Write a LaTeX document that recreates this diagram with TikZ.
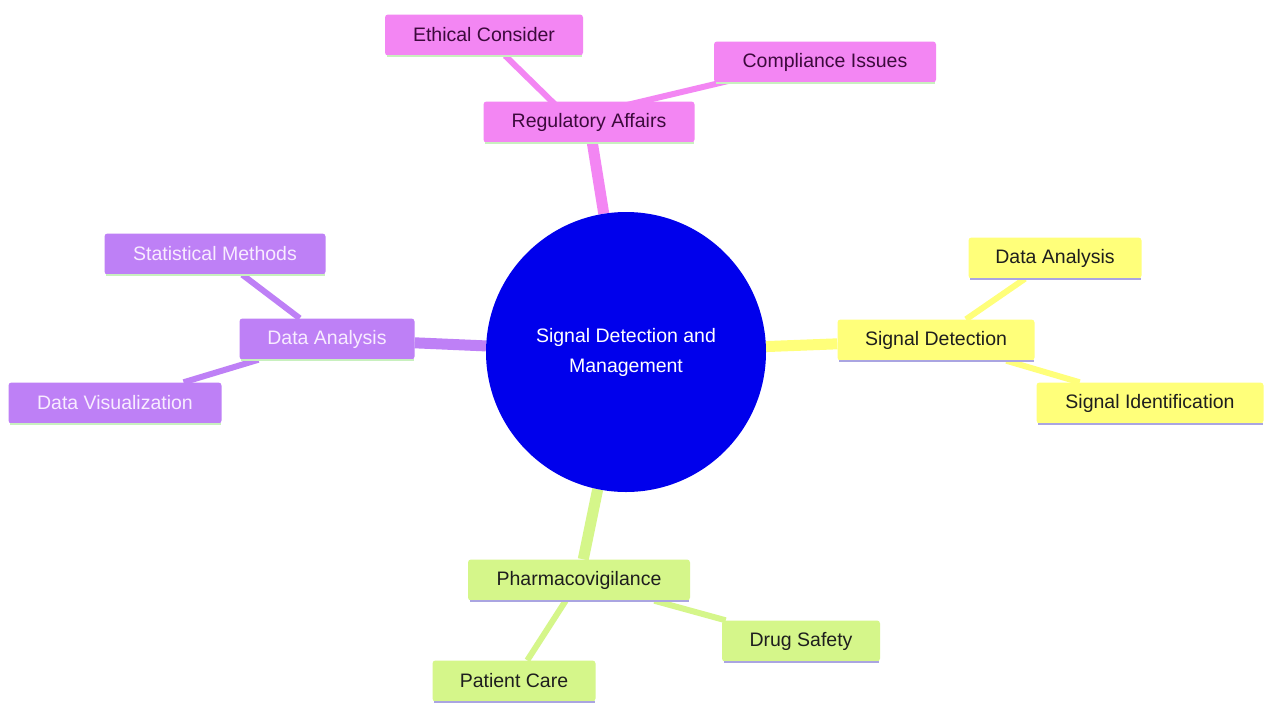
\documentclass[tikz,border=0pt]{standalone}
\usepackage{fontspec}
\setmainfont{Liberation Sans}
\usetikzlibrary{backgrounds}
\definecolor{croot}{RGB}{0,0,236}
\definecolor{cpink}{RGB}{243,134,243}
\definecolor{cyel}{RGB}{255,255,122}
\definecolor{cgrn}{RGB}{213,246,138}
\definecolor{cpur}{RGB}{190,128,246}
\definecolor{tpink}{RGB}{60,10,60}
\definecolor{tdark}{RGB}{30,30,30}
\definecolor{tpur}{RGB}{248,236,255}
\definecolor{ulgreen}{RGB}{200,240,190}
\definecolor{ullav}{RGB}{170,165,225}
\tikzset{
  box/.style={rectangle, rounded corners=3pt, inner sep=0pt, minimum height=41pt,
    font=\fontsize{19.5}{23}\selectfont},
  pinkbox/.style={box, fill=cpink, text=tpink},
  yelbox/.style={box, fill=cyel, text=tdark},
  grnbox/.style={box, fill=cgrn, text=tdark},
  purbox/.style={box, fill=cpur, text=tpur},
  rootedge/.style={line width=11pt},
  subedge/.style={line width=6pt},
  uline/.style={line width=2.5pt},
}
\begin{document}
\begin{tikzpicture}[x=1pt,y=-1pt]
\useasboundingbox (0,0) rectangle (1264,702);
\begin{scope}[on background layer]
  \fill[white] (0,0) rectangle (1264,702);
\end{scope}

% root
\node[circle, fill=croot, minimum size=280pt, inner sep=0pt, text=white,
  align=center, font=\fontsize{19.5}{30}\selectfont] (root) at (626,352)
  {Signal Detection and\\Management};

% regulatory branch
\node[pinkbox, minimum width=211pt] (ra) at (589,122) {Regulatory Affairs};
\node[pinkbox, minimum width=198pt] (ec) at (484,35) {Ethical Consider};
\node[pinkbox, minimum width=222pt] (ci) at (825,62) {Compliance Issues};

% signal detection branch
\node[yelbox, minimum width=197pt] (sd) at (936,340) {Signal Detection};
\node[yelbox, minimum width=173pt] (da2) at (1055,258) {Data Analysis};
\node[yelbox, minimum width=227pt] (si) at (1150,403) {Signal Identification};

% data analysis branch
\node[purbox, minimum width=175pt] (da) at (327,339) {Data Analysis};
\node[purbox, minimum width=221pt] (sm) at (215,254) {Statistical Methods};
\node[purbox, minimum width=213pt] (dv) at (115,403) {Data Visualization};

% pharmacovigilance branch
\node[grnbox, minimum width=222pt] (pv) at (579,580) {Pharmacovigilance};
\node[grnbox, minimum width=158pt] (ds) at (801,641) {Drug Safety};
\node[grnbox, minimum width=163pt] (pc) at (514,681) {Patient Care};

% underlines
\foreach \n/\c in {ra/ulgreen, ec/ulgreen, ci/ulgreen, da/ulgreen, sm/ulgreen, dv/ulgreen,
                   sd/ullav, da2/ullav, si/ullav, pv/ullav, ds/ullav, pc/ullav}{
  \draw[uline, \c] ([xshift=2pt,yshift=-0.5pt]\n.south west) -- ([xshift=-1pt,yshift=-0.5pt]\n.south east);
}

% edges
\begin{scope}[on background layer]
  \draw[rootedge, cpink] (root) -- (ra);
  \draw[rootedge, cyel] (root) -- (sd);
  \draw[rootedge, cpur] (root) -- (da);
  \draw[rootedge, cgrn] (root) -- (pv);
  \draw[subedge, cpink] ([xshift=-16pt]ra.center) -- (ec);
  \draw[subedge, cpink] ([yshift=8pt]ra.center) -- ([yshift=4pt]ci.center);
  \draw[subedge, cyel] (sd) -- (da2);
  \draw[subedge, cyel] (sd) -- (si);
  \draw[subedge, cpur] (da) -- (sm);
  \draw[subedge, cpur] (da) -- (dv);
  \draw[subedge, cgrn] (pv) -- (ds);
  \draw[subedge, cgrn] (pv) -- (pc);
\end{scope}
\end{tikzpicture}
\end{document}
